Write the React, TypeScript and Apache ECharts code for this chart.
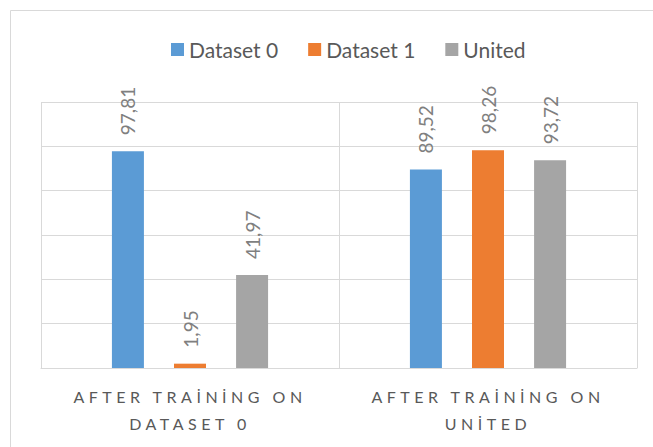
import React, { useEffect, useRef } from "react";
import * as echarts from "echarts";

const categories = ["AFTER TRAİNİNG ON\nDATASET 0", "AFTER TRAİNİNG ON\nUNİTED"];
const seriesNames = ["Dataset 0", "Dataset 1", "United"];
const dataset0 = [97.81, 89.52];
const dataset1 = [1.95, 98.26];
const united = [41.97, 93.72];
const colors = ["#5b9bd5", "#ed7d31", "#a5a5a5"];

const fmt = (v: number) => v.toFixed(2).replace(".", ",");

export default function App() {
  const ref = useRef<HTMLDivElement>(null);
  useEffect(() => {
    document.body.style.margin = "0";
    const chart = echarts.init(ref.current!, undefined, { renderer: "svg" });
    const values = [dataset0, dataset1, united];
    chart.setOption({
      animation: false,
      backgroundColor: "#ffffff",
      graphic: [
        {
          type: "rect",
          shape: { x: 10.5, y: 10.5, width: 700, height: 500 },
          style: { fill: "none", stroke: "#d9d9d9", lineWidth: 1 },
          silent: true,
        },
      ],
      legend: {
        top: 34,
        left: 166,
        icon: "rect",
        itemWidth: 13,
        itemHeight: 13,
        itemGap: 30,
        textStyle: { color: "#595959", fontSize: 21, fontFamily: "Lato" },
        data: seriesNames,
      },
      grid: { left: 41, right: 16, top: 102, bottom: 79, containLabel: false },
      xAxis: {
        type: "category",
        data: categories,
        axisLine: { lineStyle: { color: "#d9d9d9", width: 1 } },
        axisTick: { show: false },
        splitLine: { show: true, lineStyle: { color: "#d9d9d9", width: 1 } },
        axisLabel: {
          color: "#595959",
          fontSize: 16,
          fontFamily: "Lato, Carlito",
          lineHeight: 27,
          margin: 15,
          interval: 0,
        },
      },
      yAxis: {
        type: "value",
        min: 0,
        max: 120,
        interval: 20,
        axisLabel: { show: false },
        axisLine: { show: false },
        axisTick: { show: false },
        splitLine: { lineStyle: { color: "#d9d9d9", width: 1 } },
      },
      series: seriesNames.map((name, i) => ({
        name,
        type: "bar",
        data: values[i],
        barWidth: 32,
        barGap: "94%",
        itemStyle: { color: colors[i] },
        label: {
          show: true,
          position: "top",
          rotate: 90,
          align: "left",
          verticalAlign: "middle",
          distance: 16,
          color: "#7f7f7f",
          fontSize: 19,
          fontFamily: "Lato",
          formatter: (p: any) => fmt(p.value),
        },
      })),
    });
    return () => chart.dispose();
  }, []);
  return (
    <>
      <style>{`text[style*="Carlito"]{letter-spacing:4.5px;}`}</style>
      <div ref={ref} style={{ width: 653, height: 447 }} />
    </>
  );
}
